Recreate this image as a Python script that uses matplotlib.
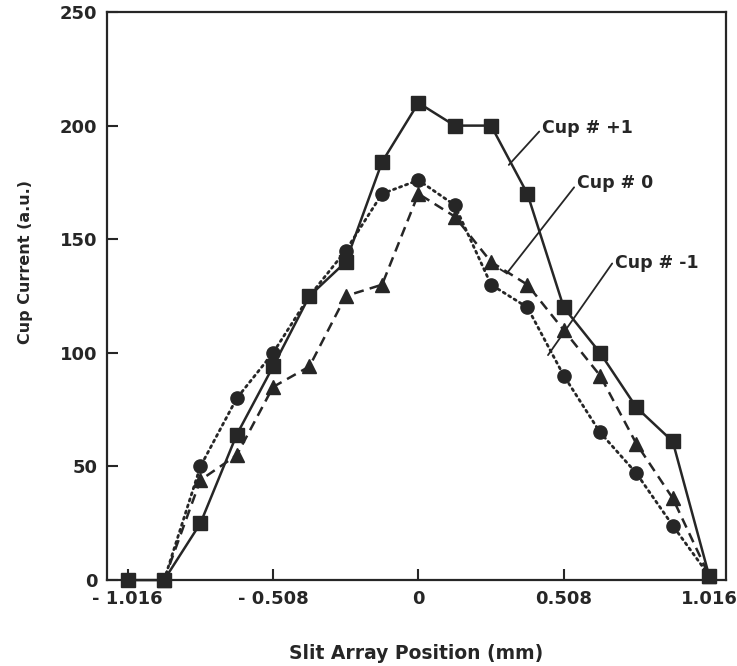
import numpy as np
import matplotlib
matplotlib.use('Agg')
import matplotlib.pyplot as plt

# slit positions (mm) and cup currents (a.u.)
pos = [-1.016, -0.889, -0.762, -0.635, -0.508, -0.381, -0.254, -0.127, 0.0,
       0.127, 0.254, 0.381, 0.508, 0.635, 0.762, 0.889, 1.016]
cup_p1 = [0, 0, 25, 64, 94, 125, 140, 184, 210, 200, 200, 170, 120, 100, 76, 61, 2]
cup_0 = [0, 44, 55, 85, 94, 125, 130, 170, 160, 140, 130, 110, 90, 60, 36, 2]
cup_m1 = [0, 50, 80, 100, 125, 145, 170, 176, 165, 130, 120, 90, 65, 47, 24, 2]

xticks = [-1.016, -0.508, 0, 0.508, 1.016]
xticklabels = ['- 1.016', '- 0.508', '0', '0.508', '1.016']
yticks = [0, 50, 100, 150, 200, 250]

ink = '#262626'
plt.rcParams['font.family'] = 'DejaVu Sans'
plt.rcParams['font.weight'] = 'bold'

fig = plt.figure(figsize=(7.37, 6.66), dpi=100)
ax = fig.add_axes([0.145, 0.129, 0.840, 0.853])

ax.plot(pos, cup_p1, '-', color=ink, lw=1.8, marker='s', ms=10, clip_on=False, zorder=4)
ax.plot(pos[1:], cup_0, color=ink, lw=1.8, ls=(0, (4, 2.5)), marker='^', ms=9.5,
        clip_on=False, zorder=3)
ax.plot(pos[1:], cup_m1, color=ink, lw=2.0, ls=(0, (0.8, 1.5)), dash_capstyle='round',
        marker='o', ms=9.5, clip_on=False, zorder=3)

ax.set_xlim(-1.089, 1.075)
ax.set_ylim(0, 250)
ax.set_xticks(xticks)
ax.set_xticklabels(xticklabels)
ax.set_yticks(yticks)
ax.tick_params(direction='in', length=8, width=1.5, labelsize=13, colors=ink, pad=7)
for lab in ax.get_xticklabels() + ax.get_yticklabels():
    lab.set_fontweight('bold')
for s in ax.spines.values():
    s.set_linewidth(1.6)
    s.set_color(ink)

ax.set_xlabel('Slit Array Position (mm)', fontsize=13.5, fontweight='bold', color=ink)
ax.set_ylabel('Cup Current (a.u.)', fontsize=11.5, fontweight='bold', color=ink)
ax.xaxis.set_label_coords(0.5, -0.112)
ax.yaxis.set_label_coords(-0.12, 0.56)

# curve labels with leader lines
lead = dict(arrowstyle='-', color=ink, lw=1.3, shrinkA=0, shrinkB=0)
ax.annotate('Cup # +1', xy=(0.316, 182.7), xytext=(0.432, 199), fontsize=12.5,
            fontweight='bold', color=ink, va='center', ha='left',
            arrowprops=dict(lead, relpos=(-0.03, 0.3)))
ax.annotate('Cup # 0', xy=(0.309, 135), xytext=(0.554, 174.7), fontsize=12.5,
            fontweight='bold', color=ink, va='center', ha='left',
            arrowprops=dict(lead, relpos=(-0.03, 0.3)))
ax.plot([0.309, 0.287], [135, 136.7], color=ink, lw=1.3)
ax.annotate('Cup # -1', xy=(0.453, 99), xytext=(0.687, 139.5), fontsize=12.5,
            fontweight='bold', color=ink, va='center', ha='left',
            arrowprops=dict(lead, relpos=(-0.03, 0.5)))

fig.savefig('out.png', dpi=100)
